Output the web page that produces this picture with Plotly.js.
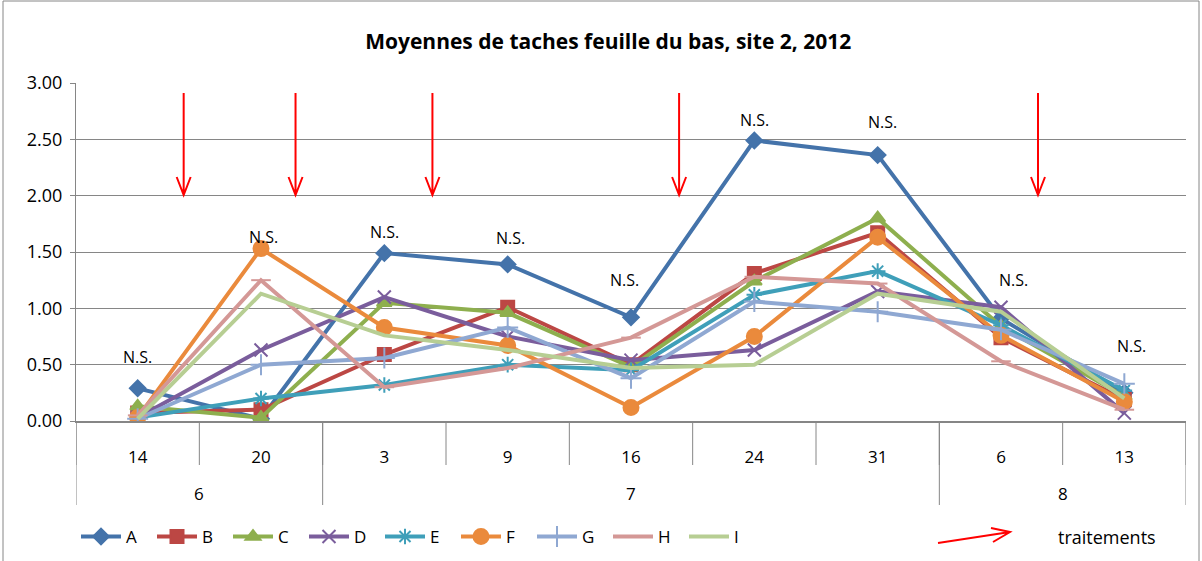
<!DOCTYPE html>
<html>
<head>
<meta charset="utf-8">
<script src="https://cdn.plot.ly/plotly-3.0.1.min.js"></script>
<style>html,body{margin:0;padding:0;background:#fff;}#chart{width:1202px;height:561px;}</style>
</head>
<body>
<div id="chart"></div>
<script>
// Category labels (two levels: day within month)
const days   = ["14","20","3","9","16","24","31","6","13"];
const monthGroups = ["6","7","8"];
const monthSpans  = [2, 5, 2];   // number of days in each month group

// Series values
const A = [0.29, 0.02, 1.49, 1.39, 0.92, 2.49, 2.36, 0.91, 0.25];
const B = [0.07, 0.10, 0.59, 1.01, 0.50, 1.31, 1.67, 0.74, 0.19];
const C = [0.13, 0.03, 1.05, 0.96, 0.48, 1.24, 1.80, 0.84, 0.22];
const D = [0.03, 0.63, 1.10, 0.75, 0.54, 0.63, 1.15, 1.01, 0.07];
const E = [0.03, 0.20, 0.32, 0.50, 0.45, 1.12, 1.33, 0.85, 0.27];
const F = [0.03, 1.53, 0.83, 0.67, 0.12, 0.75, 1.63, 0.76, 0.17];
const G = [0.02, 0.50, 0.56, 0.83, 0.38, 1.06, 0.97, 0.81, 0.33];
const H = [0.05, 1.25, 0.30, 0.47, 0.74, 1.28, 1.22, 0.53, 0.10];
const I = [0.02, 1.13, 0.76, 0.63, 0.47, 0.50, 1.13, 0.97, 0.20];

const seriesNames = ["A","B","C","D","E","F","G","H","I"];
const seriesData  = [A, B, C, D, E, F, G, H, I];

// Significance labels per category
const sigLabels = ["N.S.","N.S.","N.S.","N.S.","N.S.","N.S.","N.S.","N.S.","N.S."];
const treatLabel = "traitements";
const titleText = "Moyennes de taches feuille du bas, site 2, 2012";

const colors  = ["#4473AA","#BC4744","#8EAF4E","#7A5D9C","#3F9FB9","#EA8A3C","#8FA8D2","#D49896","#B7CE93"];
const symbols = ["diamond","square","triangle-up","x-thin-open","asterisk-open","circle","cross-thin-open","line-ew-open","none"];
const msizes  = [12, 13, 13, 13, 13, 15, 15, 14, 0];

const traces = seriesNames.map((n, i) => ({
  type: "scatter", mode: symbols[i] === "none" ? "lines" : "lines+markers",
  name: n, x: days, y: seriesData[i],
  line: {color: colors[i], width: 4},
  marker: {symbol: symbols[i], size: msizes[i], color: colors[i],
           line: {color: colors[i], width: 2}}
}));

// ---- layout-only placements ----
const L = 76, T = 83, W = 1110, Hh = 338;
const pX = px => (px - L) / W;
const pY = py => (T + Hh - py) / Hh;
const gray = "#868686";

const nsOffset = [0, 0.02, 0, 0.02, -0.05, 0, 0.04, 0.1, 0.06];
const nsY = [0.57, 1.63, 1.68, 1.62, 1.25, 2.67, 2.65, 1.25, 0.67];
const arrowIdx = [0.373, 1.28, 2.39, 4.39, 7.30];

const annotations = [];
sigLabels.forEach((t, i) => annotations.push({
  text: t, xref: "x", yref: "y", x: i + nsOffset[i], y: nsY[i],
  xanchor: "center", yanchor: "middle",
  showarrow: false, font: {size: 16, color: "#000"}
}));
annotations.push({
  text: treatLabel, xref: "paper", yref: "paper", x: pX(1107), y: pY(537),
  xanchor: "center", yanchor: "middle",
  showarrow: false, font: {size: 18, color: "#000"}
});

const shapes = [];
const red = {color: "#FF0000", width: 2};
// treatment arrows (vertical, open V head)
arrowIdx.forEach(ci => {
  const px = L + (ci + 0.5) * W / 9;
  const path = `M ${pX(px)},${pY(93)} L ${pX(px)},${pY(195)} ` +
               `M ${pX(px - 7)},${pY(177)} L ${pX(px)},${pY(195)} L ${pX(px + 7)},${pY(177)}`;
  shapes.push({type: "path", xref: "paper", yref: "paper", path: path, line: red});
});
// legend arrow for "traitements"
shapes.push({type: "path", xref: "paper", yref: "paper", line: red,
  path: `M ${pX(938)},${pY(543)} L ${pX(1010)},${pY(532)} M ${pX(993)},${pY(542)} L ${pX(1010)},${pY(532)} L ${pX(991)},${pY(528)}`});

// inner category boundaries
for (let k = 0; k <= days.length; k++) {
  shapes.push({type: "line", xref: "x", yref: "paper", x0: k - 0.5, x1: k - 0.5, y0: 0, y1: pY(465),
               line: {color: gray, width: 1}});
}
// month group dividers + labels
let start = 0;
shapes.push({type: "line", xref: "x", yref: "paper", x0: -0.5, x1: -0.5, y0: 0, y1: pY(505),
             line: {color: gray, width: 1}});
monthGroups.forEach((m, g) => {
  const end = start + monthSpans[g];
  shapes.push({type: "line", xref: "x", yref: "paper", x0: end - 0.5, x1: end - 0.5, y0: 0, y1: pY(505),
               line: {color: gray, width: 1}});
  annotations.push({text: m, xref: "x", yref: "paper", x: (start + end - 1) / 2, y: pY(494),
                    xanchor: "center", yanchor: "middle",
                    showarrow: false, font: {size: 17, color: "#000"}});
  start = end;
});
// outer chart frame
shapes.push({type: "rect", xref: "paper", yref: "paper", x0: pX(3), x1: pX(1199), y0: pY(580), y1: pY(1),
             line: {color: gray, width: 1}, fillcolor: "rgba(0,0,0,0)", layer: "below"});

const layout = {
  width: 1202, height: 561,
  margin: {l: L, r: 1202 - L - W, t: T, b: 561 - T - Hh},
  paper_bgcolor: "#fff", plot_bgcolor: "#fff",
  font: {family: "Open Sans, sans-serif", size: 17, color: "#000"},
  title: {text: "<b>" + titleText + "</b>",
          font: {size: 21, color: "#000"}, x: 0.506, xanchor: "center",
          yref: "container", y: 1 - 42 / 561, yanchor: "middle"},
  showlegend: true,
  legend: {orientation: "h", x: 0.0, xanchor: "left", yref: "container", y: 1 - 537 / 561, yanchor: "middle",
           font: {size: 17}, entrywidth: 21, entrywidthmode: "pixels", itemwidth: 40,
           traceorder: "normal", bgcolor: "rgba(0,0,0,0)"},
  xaxis: {type: "category", range: [-0.5, 8.5], showgrid: false, showline: true, linecolor: gray,
          linewidth: 1.5, ticks: "", ticklabelstandoff: 20, automargin: false,
          tickfont: {size: 17}, zeroline: false, fixedrange: true},
  yaxis: {range: [0, 3], dtick: 0.5, tickformat: ".2f", showgrid: true, gridcolor: gray,
          gridwidth: 1, showline: true, linecolor: gray, linewidth: 1, ticks: "outside",
          ticklen: 5, tickcolor: gray, ticklabelstandoff: 4, zeroline: false, tickfont: {size: 18},
          automargin: false, fixedrange: true},
  annotations: annotations,
  shapes: shapes
};

Plotly.newPlot("chart", traces, layout, {displayModeBar: false, staticPlot: true});
</script>
</body>
</html>
